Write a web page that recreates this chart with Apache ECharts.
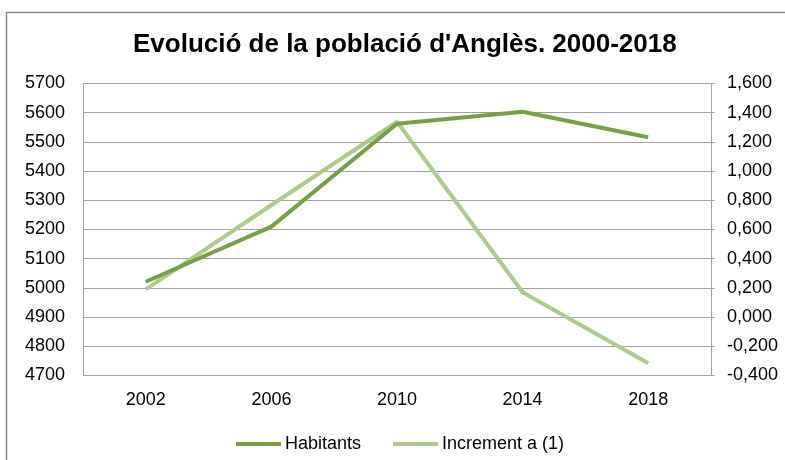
<!DOCTYPE html>
<html>
<head>
<meta charset="utf-8">
<script src="https://cdn.jsdelivr.net/npm/echarts@6/dist/echarts.min.js"></script>
<style>
  html, body { margin:0; padding:0; background:#fff; }
  #container { width:785px; height:460px; }
</style>
</head>
<body>
<div id="container"></div>
<script>
var years = ['2002', '2006', '2010', '2014', '2018'];
var habitants = [5021, 5210, 5562, 5603, 5516];
var increment = [0.19, 0.768, 1.338, 0.17, -0.316];

var dom = document.getElementById("container");
var myChart = echarts.init(dom);

var option = {
    textStyle: { fontFamily: 'Liberation Sans, Arial, sans-serif' },
    color: ['#77A043', '#ADCB8B'],
    animation: false,
    title: {
        text: "Evolució de la població d'Anglès. 2000-2018",
        left: 128,
        top: 27,
        textStyle: { fontSize: 26, fontWeight: 'bold', color: '#000', fontFamily: 'Liberation Sans, Arial, sans-serif' }
    },
    graphic: [{
        type: 'rect',
        shape: { x: 6.5, y: 12.5, width: 900, height: 600 },
        style: { fill: 'none', stroke: '#888', lineWidth: 1.5 },
        silent: true
    }],
    legend: {
        data: ['Habitants', 'Increment a (1)'],
        top: 430,
        left: 231,
        icon: 'rect',
        itemWidth: 45,
        itemHeight: 4,
        itemGap: 32,
        textStyle: { fontSize: 18, color: '#000', padding: [0, 0, 0, -1] }
    },
    grid: {
        left: 83,
        right: 74,
        top: 83.5,
        bottom: 84.5
    },
    xAxis: {
        type: 'category',
        data: years,
        boundaryGap: true,
        axisLine: { lineStyle: { color: '#A6A6A6', width: 1 } },
        axisTick: { show: false },
        axisLabel: { fontSize: 18, color: '#000', margin: 16 }
    },
    yAxis: [{
        type: 'value',
        min: 4700,
        max: 5700,
        interval: 100,
        axisLine: { show: true, lineStyle: { color: '#A6A6A6', width: 1 } },
        axisTick: { show: false },
        splitLine: { lineStyle: { color: '#A0A0A0', width: 1 } },
        axisLabel: {
            fontSize: 18, color: '#000', margin: 18,
            formatter: function (v) { return String(v); }
        }
    }, {
        type: 'value',
        min: -0.4,
        max: 1.6,
        interval: 0.2,
        position: 'right',
        axisLine: { show: true, lineStyle: { color: '#A6A6A6', width: 1 } },
        axisTick: { show: true, length: 4, inside: false, lineStyle: { color: '#A6A6A6' } },
        splitLine: { show: false },
        axisLabel: {
            fontSize: 18, color: '#000', margin: 16,
            formatter: function (v) { return v.toFixed(3).replace('.', ','); }
        }
    }],
    series: [{
        name: 'Habitants',
        type: 'line',
        data: habitants,
        yAxisIndex: 0,
        symbol: 'none',
        lineStyle: { width: 4, color: '#77A043' },
        z: 3
    }, {
        name: 'Increment a (1)',
        type: 'line',
        data: increment,
        yAxisIndex: 1,
        symbol: 'none',
        lineStyle: { width: 4, color: '#ADCB8B' },
        z: 2
    }]
};

myChart.setOption(option);
</script>
</body>
</html>
